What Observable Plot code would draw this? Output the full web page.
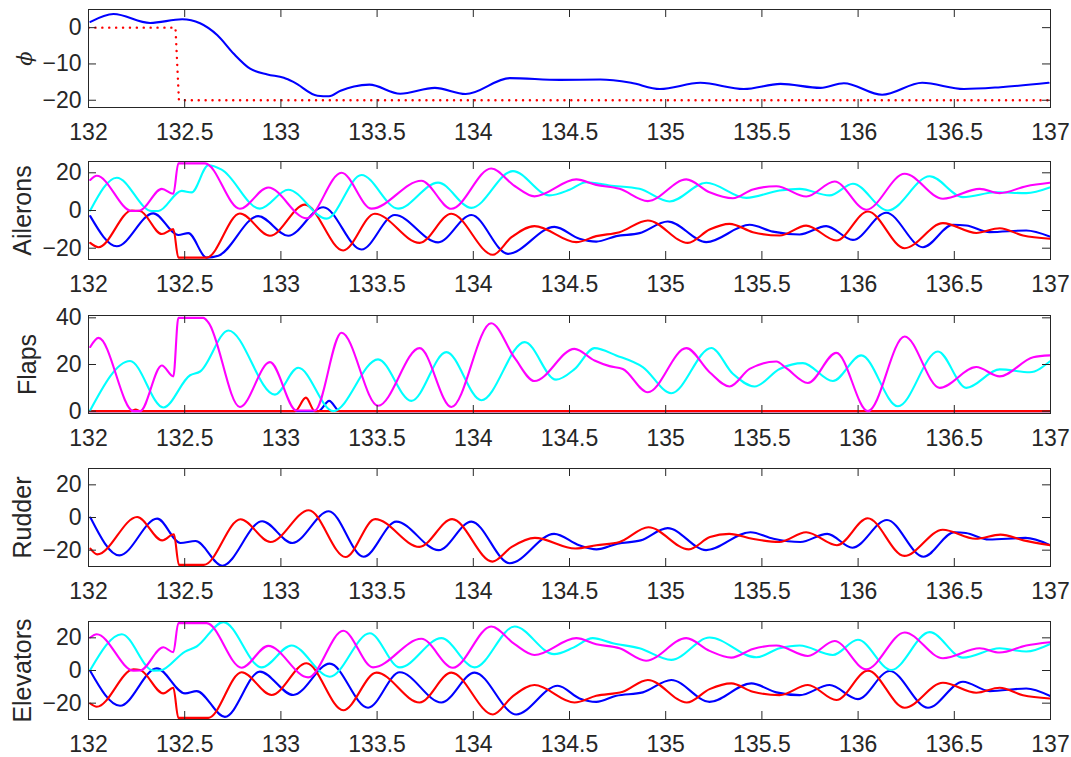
<!DOCTYPE html>
<html>
<head>
<meta charset="utf-8">
<script src="https://cdn.jsdelivr.net/npm/d3@7"></script>
<script src="https://cdn.jsdelivr.net/npm/@observablehq/plot@0.6"></script>
<style>
  body { margin: 0; background: #fff; }
  #fig { position: relative; width: 1071px; height: 757px; overflow: hidden; background: #fff; }
  #fig svg { position: absolute; left: 0; background: transparent !important; }
</style>
</head>
<body>
<div id="fig"></div>
<script>
// Time axis ticks shared by every panel
const timeTicks = [132, 132.5, 133, 133.5, 134, 134.5, 135, 135.5, 136, 136.5, 137];

// Roll angle phi and its reference (dotted)
const phiMeasured = [[132.01,1.6],[132.13,3.75],[132.32,1.3],[132.487,2.3],[132.58,1.2],[132.67,-2.1],[132.755,-7.2],[132.84,-11.3],[132.93,-12.9],[133.015,-13.8],[133.067,-15],[133.19,-18.75],[133.25,-18.9],[133.31,-17.4],[133.38,-16.2],[133.46,-15.7],[133.62,-18.2],[133.8,-16.6],[133.96,-18.3],[134.19,-13.9],[134.45,-14.4],[134.66,-14.3],[134.82,-15.2],[134.97,-16.9],[135.18,-15.2],[135.406,-16.9],[135.597,-15.5],[135.805,-16.6],[135.926,-15.3],[136.125,-18.5],[136.333,-15.2],[136.55,-16.9],[136.74,-16.4],[136.99,-15.2]];
const phiReference = [[132,0],[132.452,0],[132.47,-20],[137,-20]];

// Ailerons
const aileronsBlue = [[132.009,-3],[132.147,-19],[132.337,-1.5],[132.467,-13],[132.519,-12],[132.614,-25],[132.675,-24],[132.882,-3],[133.038,-13.4],[133.22,1.7],[133.419,-20.7],[133.592,-2.4],[133.817,-16.9],[133.99,-2.4],[134.18,-23],[134.422,-8.7],[134.552,-15],[134.639,-16.5],[134.743,-13.6],[134.864,-12],[135.011,-5.8],[135.211,-16.8],[135.436,-7.6],[135.557,-11.2],[135.696,-12.7],[135.834,-8.3],[135.973,-15.6],[136.146,-1.2],[136.337,-19.5],[136.493,-7.6],[136.562,-8],[136.684,-11.5],[136.874,-10.6],[136.996,-13.8]];
const aileronsRed = [[132.009,-17.2],[132.052,-19.5],[132.225,0],[132.268,-0.3],[132.381,-12.5],[132.441,-9.9],[132.467,-25],[132.614,-25],[132.787,-1.6],[132.943,-13.4],[133.125,3.1],[133.324,-21.2],[133.488,-1.7],[133.721,-17.2],[133.886,-1.7],[134.102,-23.5],[134.197,-14.3],[134.318,-8.3],[134.535,-16.8],[134.639,-13.6],[134.76,-11.5],[134.907,-5.3],[135.115,-17.2],[135.228,-10.1],[135.332,-7.1],[135.453,-11.5],[135.592,-13.3],[135.73,-8],[135.887,-15.9],[136.051,-0.5],[136.242,-20],[136.441,-6.7],[136.614,-11.9],[136.736,-9.4],[136.857,-13.3],[136.996,-15]];
const aileronsCyan = [[132.009,0],[132.147,17.4],[132.329,-0.3],[132.363,-0.3],[132.484,10.4],[132.536,9.6],[132.623,24],[132.692,21.7],[132.891,1],[133.038,11],[133.237,-4.3],[133.419,18.8],[133.609,1],[133.817,14.8],[133.99,1.4],[134.206,20.9],[134.396,8],[134.5,11],[134.587,15],[134.708,13.3],[134.864,11.5],[135.02,4.8],[135.211,14.7],[135.419,6.7],[135.592,10.6],[135.696,11.5],[135.852,8],[135.973,14.2],[136.155,0],[136.372,18.2],[136.545,7.1],[136.718,9.7],[136.874,9.2],[136.996,12.2]];
const aileronsMagenta = [[132.009,16.2],[132.043,18.4],[132.225,-0.3],[132.268,0],[132.381,11.5],[132.441,8.9],[132.467,25],[132.606,25],[132.787,0.9],[132.934,12.2],[133.133,-4.2],[133.315,20],[133.471,1],[133.73,15.8],[133.886,0.9],[134.093,22.3],[134.215,13],[134.318,7.5],[134.535,16.5],[134.639,13.6],[134.76,11.5],[134.907,5],[135.107,16.5],[135.228,9.7],[135.349,6.5],[135.453,11.2],[135.575,12.9],[135.731,7.4],[135.878,15.4],[136.042,0.4],[136.242,19.5],[136.441,6.2],[136.632,11.5],[136.736,9.2],[136.874,12.9],[136.996,14.7]];

// Flaps
const flapsBlue = [[132,0],[133.194,0],[133.251,4.4],[133.306,0],[137,0]];
const flapsRed = [[132,0],[132.22,0],[132.245,0.7],[132.27,0],[133.073,0],[133.13,5.8],[133.176,0],[137,0]];
const flapsCyan = [[132.009,0.4],[132.216,21.5],[132.389,1.6],[132.528,15.4],[132.58,17],[132.727,34.6],[132.969,7.1],[133.09,18.6],[133.272,0],[133.505,22.2],[133.678,4.4],[133.86,25.3],[134.042,4.7],[134.267,29.6],[134.43,13.5],[134.526,18],[134.63,27],[134.743,23.9],[134.881,18.9],[135.029,7.7],[135.237,27.1],[135.349,16],[135.462,10.6],[135.592,18.1],[135.713,20.6],[135.869,12.9],[136.016,23.9],[136.207,2.1],[136.415,25.6],[136.562,10],[136.736,17.9],[136.892,16.7],[136.996,21.3]];
const flapsMagenta = [[132.009,27.5],[132.052,31.4],[132.234,0],[132.268,0],[132.381,19.6],[132.441,14.9],[132.467,40],[132.597,40],[132.623,38],[132.787,1.8],[132.943,21],[133.081,0.3],[133.176,0.3],[133.315,33.6],[133.505,2.3],[133.721,27],[133.886,1.8],[134.093,37.7],[134.215,22.8],[134.318,12.9],[134.526,26.7],[134.63,21.7],[134.708,19.3],[134.777,18.1],[134.907,8.1],[135.107,27],[135.228,16.7],[135.332,10.6],[135.436,18.1],[135.575,21.3],[135.627,18.4],[135.739,12.1],[135.887,25],[136.051,0],[136.242,32],[136.424,10],[136.614,18.9],[136.736,14.9],[136.91,23.1],[136.996,23.9]];

// Rudder
const rudderBlue = [[132.01,0],[132.161,-23.2],[132.357,-0.7],[132.478,-15.6],[132.556,-14.4],[132.695,-29.5],[132.903,-2.3],[133.059,-15.6],[133.249,3.8],[133.43,-24],[133.6,-2.5],[133.82,-20],[133.99,-2.5],[134.19,-28],[134.42,-10],[134.55,-17],[134.64,-19.5],[134.75,-16],[134.87,-14],[135.01,-6.5],[135.21,-20],[135.44,-9],[135.56,-13],[135.7,-15],[135.84,-10],[135.97,-18.5],[136.15,-1.5],[136.34,-24],[136.5,-9],[136.56,-9.5],[136.68,-13.5],[136.87,-12.5],[137,-17]];
const rudderRed = [[132.01,-19.1],[132.045,-22.6],[132.253,0.3],[132.383,-14],[132.444,-10.3],[132.47,-29],[132.6,-29],[132.79,-1.1],[132.946,-15],[133.145,4.4],[133.336,-24.2],[133.49,-1],[133.72,-18],[133.89,-1],[134.1,-27],[134.2,-18],[134.32,-12.5],[134.53,-19],[134.64,-17],[134.76,-15],[134.91,-6],[135.12,-19.5],[135.23,-12],[135.33,-10],[135.45,-13],[135.59,-15],[135.73,-9],[135.89,-17],[136.05,-0.5],[136.24,-23.5],[136.44,-7.5],[136.61,-13],[136.74,-10.5],[136.86,-14],[137,-17]];

// Elevators
const elevatorsBlue = [[132.009,-0.3],[132.164,-21.6],[132.355,1.3],[132.502,-14],[132.562,-12.6],[132.709,-28.4],[132.891,-0.7],[133.064,-15],[133.254,4.2],[133.453,-22.8],[133.618,-1.1],[133.834,-19.6],[134.007,-1.3],[134.223,-26.9],[134.439,-9.3],[134.552,-17.1],[134.639,-19.2],[134.743,-15.5],[134.881,-13.4],[135.029,-5.8],[135.228,-19.2],[135.445,-7.9],[135.575,-13.4],[135.696,-15.1],[135.852,-8.9],[135.999,-17.5],[136.164,-0.3],[136.363,-22.8],[136.545,-6.9],[136.684,-12.6],[136.874,-11],[136.996,-15.5]];
const elevatorsRed = [[132.009,-20.2],[132.043,-22.2],[132.234,0.7],[132.268,0.3],[132.389,-14],[132.441,-10.6],[132.467,-29],[132.623,-29],[132.796,-1.1],[132.952,-15],[133.133,4.4],[133.324,-24.3],[133.497,-1.3],[133.721,-19.6],[133.886,-1.3],[134.102,-26.9],[134.206,-15.7],[134.318,-8.9],[134.526,-19.6],[134.639,-15.5],[134.777,-13],[134.907,-5.8],[135.11,-19.6],[135.228,-11.4],[135.341,-7.9],[135.453,-13],[135.592,-15.1],[135.739,-8.9],[135.887,-18.1],[136.051,-0.1],[136.242,-22.8],[136.441,-7.5],[136.614,-13.6],[136.736,-10.6],[136.857,-15.1],[136.996,-17.1]];
const elevatorsCyan = [[132.009,0.3],[132.173,22.2],[132.337,-0.1],[132.372,0],[132.502,11.6],[132.562,14.7],[132.701,29.6],[132.9,1.9],[133.055,15.3],[133.254,-3.8],[133.462,22.8],[133.618,1.9],[133.834,19.8],[134.007,1.9],[134.215,26.9],[134.42,10],[134.52,14],[134.621,19.8],[134.725,16.7],[134.864,13.6],[135.029,6.5],[135.228,20.2],[135.471,8.1],[135.592,13.6],[135.696,15.3],[135.869,9.5],[135.999,18.8],[136.172,0.3],[136.372,23.5],[136.545,7.9],[136.736,13.6],[136.874,11.6],[136.996,16.1]];
const elevatorsMagenta = [[132.009,20.2],[132.043,22.2],[132.234,-0.1],[132.268,0],[132.389,14.2],[132.441,11.2],[132.467,29],[132.614,29],[132.796,1.7],[132.934,15.1],[133.142,-4.2],[133.324,24.3],[133.479,1.9],[133.73,19.4],[133.894,1.7],[134.093,26.9],[134.215,16.1],[134.318,9.5],[134.535,19.8],[134.639,16.1],[134.76,13.6],[134.898,6],[135.107,19.8],[135.228,12],[135.341,7.9],[135.453,13.2],[135.575,15.3],[135.739,8.9],[135.878,18.1],[136.042,0.7],[136.242,23.3],[136.441,7.5],[136.632,13.6],[136.736,11],[136.874,15.3],[136.996,17.3]];

// ---- drawing ----
const WIDTH = 1071, M_LEFT = 88, M_RIGHT = 21, BOX_H = 98, M_TOP = 9, TICK = 8;
const AXIS = "#262626";
const BLUE = "#0000ff", RED = "#ff0000", CYAN = "#00ffff", MAGENTA = "#ff00ff";
const FONT = "'Liberation Sans', Arial, Helvetica, sans-serif";
const fmt = d3.format("");

const panels = [
  { boxTop: 9, label: "ϕ", labelX: 25, labelFont: {fontFamily: "'DejaVu Serif', serif", fontStyle: "italic", fontSize: 21},
    domain: [-22, 5], yTicks: [-20, -10, 0],
    series: [{data: phiMeasured, stroke: BLUE}, {data: phiReference, stroke: RED, dash: "0.1,6.8", cap: "round", width: 2.4, curve: "linear"}] },
  { boxTop: 161, label: "Ailerons", labelX: 22.5, domain: [-26, 26], yTicks: [-20, 0, 20],
    series: [{data: aileronsBlue, stroke: BLUE}, {data: aileronsRed, stroke: RED}, {data: aileronsCyan, stroke: CYAN}, {data: aileronsMagenta, stroke: MAGENTA}] },
  { boxTop: 315, label: "Flaps", labelX: 27.5, domain: [-1, 41], yTicks: [0, 20, 40],
    series: [{data: flapsBlue, stroke: BLUE}, {data: flapsRed, stroke: RED}, {data: flapsCyan, stroke: CYAN}, {data: flapsMagenta, stroke: MAGENTA}] },
  { boxTop: 468, label: "Rudder", labelX: 22.5, domain: [-30, 30], yTicks: [-20, 0, 20],
    series: [{data: rudderBlue, stroke: BLUE}, {data: rudderRed, stroke: RED}] },
  { boxTop: 621, label: "Elevators", labelX: 22.5, domain: [-30, 30], yTicks: [-20, 0, 20],
    series: [{data: elevatorsBlue, stroke: BLUE}, {data: elevatorsRed, stroke: RED}, {data: elevatorsCyan, stroke: CYAN}, {data: elevatorsMagenta, stroke: MAGENTA}] }
];

const fig = document.getElementById("fig");
const plotW = WIDTH - M_LEFT - M_RIGHT;

panels.forEach((p, i) => {
  const top = p.boxTop - M_TOP;
  const nextTop = i < panels.length - 1 ? panels[i + 1].boxTop - M_TOP : 757;
  const height = nextTop - top;
  const lf = p.labelFont || {fontFamily: FONT, fontSize: 25};

  const chart = Plot.plot({
    width: WIDTH,
    height,
    marginLeft: M_LEFT,
    marginRight: M_RIGHT,
    marginTop: M_TOP,
    marginBottom: height - M_TOP - BOX_H,
    style: {fontFamily: FONT, background: "transparent", overflow: "visible"},
    x: {domain: [132, 137]},
    y: {domain: p.domain},
    marks: [
      ...p.series.map(s => Plot.line(s.data, {
        x: d => d[0], y: d => d[1],
        stroke: s.stroke, strokeWidth: s.width || 2.1,
        strokeDasharray: s.dash,
        strokeLinecap: s.cap,
        curve: s.curve || "monotone-x",
        clip: true
      })),
      // inward tick marks on all four sides
      Plot.ruleX(timeTicks, {stroke: AXIS, strokeWidth: 1, insetTop: BOX_H - TICK}),
      Plot.ruleX(timeTicks, {stroke: AXIS, strokeWidth: 1, insetBottom: BOX_H - TICK}),
      Plot.ruleY(p.yTicks, {stroke: AXIS, strokeWidth: 1, insetRight: plotW - TICK}),
      Plot.ruleY(p.yTicks, {stroke: AXIS, strokeWidth: 1, insetLeft: plotW - TICK}),
      Plot.frame({stroke: AXIS, strokeWidth: 1}),
      Plot.axisX(timeTicks, {tickSize: 0, tickPadding: 16, fontSize: 23, color: AXIS, label: null, tickFormat: fmt}),
      Plot.axisY(p.yTicks, {tickSize: 0, tickPadding: 7, fontSize: 23, color: AXIS, label: null, tickFormat: fmt}),
      Plot.text([p.label], {
        text: d => d, frameAnchor: "left", rotate: -90,
        dx: p.labelX - M_LEFT, textAnchor: "middle", lineAnchor: "middle",
        fill: AXIS, ...lf
      })
    ]
  });
  chart.style.top = top + "px";
  fig.appendChild(chart);
});
</script>
</body>
</html>
